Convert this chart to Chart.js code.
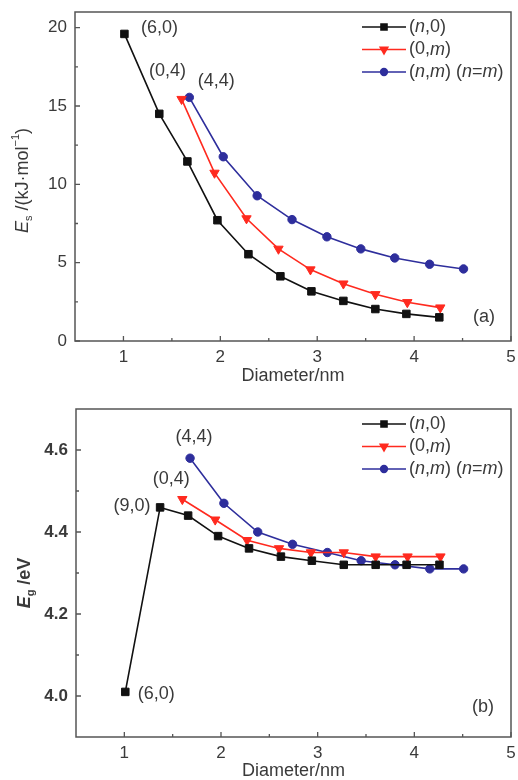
<!DOCTYPE html>
<html>
<head>
<meta charset="utf-8">
<script src="https://cdn.jsdelivr.net/npm/chart.js@4.4.1/dist/chart.umd.min.js"></script>
<style>
  body { margin: 0; background: #fff; }
  .painel { position: relative; width: 518px; height: 390px; }
</style>
</head>
<body>
<div class="painel"><canvas id="graficoA" width="518" height="390"></canvas></div>
<div class="painel"><canvas id="graficoB" width="518" height="390"></canvas></div>
<script>
// Dados
const DIAM_N0 = [1.01, 1.37, 1.66, 1.97, 2.29, 2.62, 2.94, 3.27, 3.60, 3.92, 4.26];
const DIAM_0M = [1.60, 1.94, 2.27, 2.60, 2.93, 3.27, 3.60, 3.93, 4.27];
const DIAM_NM = [1.68, 2.03, 2.38, 2.74, 3.10, 3.45, 3.80, 4.16, 4.51];

// (a) energia de deformação
const ES_N0 = [19.6, 14.5, 11.46, 7.71, 5.54, 4.13, 3.17, 2.56, 2.04, 1.73, 1.51];
const ES_0M = [15.44, 10.73, 7.82, 5.88, 4.56, 3.66, 2.98, 2.47, 2.13];
const ES_NM = [15.55, 11.76, 9.27, 7.75, 6.65, 5.88, 5.30, 4.90, 4.60];

// (b) gap de energia
const EG_N0 = [4.01, 4.46, 4.44, 4.39, 4.36, 4.34, 4.33, 4.32, 4.32, 4.32, 4.32];
const EG_0M = [4.48, 4.43, 4.38, 4.36, 4.35, 4.35, 4.34, 4.34, 4.34];
const EG_NM = [4.58, 4.47, 4.40, 4.37, 4.35, 4.33, 4.32, 4.31, 4.31];

// Ticks
const TICKS_X = [1, 1.5, 2, 2.5, 3, 3.5, 4, 4.5, 5];
const ROTULOS_X = [1, 2, 3, 4, 5];
const TICKS_Y_A = [0, 2.5, 5, 7.5, 10, 12.5, 15, 17.5, 20];
const ROTULOS_Y_A = [0, 5, 10, 15, 20];
const TICKS_Y_B = [4.0, 4.1, 4.2, 4.3, 4.4, 4.5, 4.6];
const ROTULOS_Y_B = [4.0, 4.2, 4.4, 4.6];

// Textos (partes com itálico / subscrito / sobrescrito)
const LEGENDA = [
  [{ t: '(' }, { t: 'n', i: true }, { t: ',0)' }],
  [{ t: '(0,' }, { t: 'm', i: true }, { t: ')' }],
  [{ t: '(' }, { t: 'n', i: true }, { t: ',' }, { t: 'm', i: true }, { t: ') (' }, { t: 'n', i: true }, { t: '=' }, { t: 'm', i: true }, { t: ')' }]
];
const TITULO_X = [{ t: 'Diameter/nm' }];
const TITULO_Y_A = [{ t: 'E', i: true }, { t: 's', sub: true }, { t: ' /(kJ·mol' }, { t: '−1', sup: true }, { t: ')' }];
const TITULO_Y_B = [{ t: 'E', i: true }, { t: 'g', sub: true }, { t: ' /eV' }];
const ROTULOS_A = ['(6,0)', '(0,4)', '(4,4)'];
const ROTULOS_B = ['(4,4)', '(0,4)', '(9,0)', '(6,0)'];

const CORES = ['#111111', '#ff2a1f', '#2e2e9c'];
const FONTE = '"Liberation Sans", Arial, sans-serif';
const COR_TEXTO = '#3a3a3a';
const COR_EIXO = '#555555';

function fontePara(p, tamanho, peso) {
  const s = (p.sub || p.sup) ? Math.round(tamanho * 0.62) : tamanho;
  return `${p.i ? 'italic ' : ''}${peso} ${s}px ${FONTE}`;
}

/**
 * Escreve um texto com partes em itálico, subscrito ou sobrescrito
 */
function desenharTexto(ctx, partes, x, y, tamanho, peso, alinhar) {
  let total = 0;
  partes.forEach(p => { ctx.font = fontePara(p, tamanho, peso); total += ctx.measureText(p.t).width; });
  let cx = alinhar === 'center' ? x - total / 2 : x;
  ctx.textAlign = 'left';
  ctx.textBaseline = 'middle';
  partes.forEach(p => {
    ctx.font = fontePara(p, tamanho, peso);
    const dy = p.sub ? tamanho * 0.32 : p.sup ? -tamanho * 0.38 : 0;
    ctx.fillText(p.t, cx, y + dy);
    cx += ctx.measureText(p.t).width;
  });
}

function serie(xs, ys, i, estilo, raio) {
  return {
    data: xs.map((x, k) => ({ x, y: ys[k] })),
    borderColor: CORES[i],
    backgroundColor: CORES[i],
    pointBackgroundColor: CORES[i],
    pointBorderColor: CORES[i],
    pointStyle: estilo,
    pointRadius: raio,
    pointRotation: estilo === 'triangle' ? 180 : 0,
    pointBorderWidth: 1,
    borderWidth: 1.6,
    showLine: true,
    fill: false,
    tension: 0
  };
}

/**
 * Cria um dos painéis (a) ou (b)
 */
function criarGrafico(id, cfg) {
  const ctx = document.getElementById(id).getContext('2d');
  const pesoY = cfg.negritoY ? 'bold' : 'normal';

  const moldura = {
    id: 'moldura',
    afterDraw(chart) {
      const c = chart.ctx;
      const a = chart.chartArea;
      const sx = chart.scales.x;
      const sy = chart.scales.y;
      c.save();
      c.strokeStyle = COR_EIXO;
      c.lineWidth = 1.5;
      c.strokeRect(a.left, a.top, a.right - a.left, a.bottom - a.top);

      // marcas dos eixos, viradas para dentro
      c.lineWidth = 1.3;
      c.beginPath();
      TICKS_X.forEach(v => {
        const px = sx.getPixelForValue(v);
        const len = ROTULOS_X.includes(v) ? 5 : 3;
        c.moveTo(px, a.bottom);
        c.lineTo(px, a.bottom - len);
      });
      cfg.ticksY.forEach(v => {
        const py = sy.getPixelForValue(v);
        const len = cfg.rotulosY.includes(v) ? 5 : 3;
        c.moveTo(a.left, py);
        c.lineTo(a.left + len, py);
      });
      c.stroke();

      c.fillStyle = COR_TEXTO;
      // títulos dos eixos
      desenharTexto(c, TITULO_X, (a.left + a.right) / 2, a.bottom + cfg.dyTituloX, 18, 'normal', 'center');
      c.save();
      c.translate(cfg.xTituloY, (a.top + a.bottom) / 2 + cfg.dyTituloY);
      c.rotate(-Math.PI / 2);
      desenharTexto(c, cfg.tituloY, 0, 0, 18, pesoY, 'center');
      c.restore();

      // rótulos junto aos pontos
      cfg.rotulos.forEach((r, k) => {
        const pos = cfg.posRotulos[k];
        const pt = chart.getDatasetMeta(pos.serie).data[pos.ponto];
        desenharTexto(c, [{ t: r }], pt.x + pos.dx, pt.y + pos.dy, 18, 'normal', 'center');
      });
      desenharTexto(c, [{ t: cfg.letra }], a.right - cfg.dxLetra, a.bottom - cfg.dyLetra, 18, 'normal', 'center');

      // legenda
      LEGENDA.forEach((partes, k) => {
        const ds = chart.data.datasets[k];
        const y = a.top + 15 + k * 22.5;
        const x0 = a.right - 149;
        c.strokeStyle = ds.borderColor;
        c.lineWidth = 1.6;
        c.beginPath();
        c.moveTo(x0, y);
        c.lineTo(x0 + 44, y);
        c.stroke();
        c.fillStyle = ds.backgroundColor;
        c.strokeStyle = ds.borderColor;
        Chart.helpers.drawPoint(c, {
          pointStyle: ds.pointStyle,
          radius: ds.pointRadius * 0.8,
          rotation: ds.pointRotation,
          borderWidth: 1
        }, x0 + 22, y);
        c.fillStyle = COR_TEXTO;
        desenharTexto(c, partes, x0 + 47, y, 18, 'normal', 'left');
      });
      c.restore();
    }
  };

  return new Chart(ctx, {
    type: 'scatter',
    data: {
      datasets: [
        serie(DIAM_N0, cfg.y[0], 0, 'rect', 5.3),
        serie(DIAM_0M, cfg.y[1], 1, 'triangle', 5.4),
        serie(DIAM_NM, cfg.y[2], 2, 'circle', 4.2)
      ]
    },
    options: {
      responsive: false,
      animation: false,
      layout: { padding: cfg.padding },
      plugins: { legend: { display: false }, tooltip: { enabled: false } },
      scales: {
        x: {
          type: 'linear',
          min: 0.5,
          max: 5,
          afterBuildTicks: s => { s.ticks = TICKS_X.map(v => ({ value: v })); },
          afterFit: s => {
            s.height = cfg.alturaX;
            s.paddingLeft = 0;
            s.paddingRight = 0;
          },
          grid: { drawOnChartArea: false, drawTicks: false },
          border: { display: false },
          ticks: {
            autoSkip: false,
            maxRotation: 0,
            padding: 6,
            color: COR_TEXTO,
            font: { size: 17, family: FONTE },
            callback: v => ROTULOS_X.includes(v) ? String(v) : ''
          }
        },
        y: {
          min: cfg.minY,
          max: cfg.maxY,
          afterBuildTicks: s => { s.ticks = cfg.ticksY.map(v => ({ value: v })); },
          afterFit: s => {
            s.width = cfg.larguraY;
            s.paddingTop = 0;
            s.paddingBottom = 0;
          },
          grid: { drawOnChartArea: false, drawTicks: false },
          border: { display: false },
          ticks: {
            autoSkip: false,
            padding: 8,
            color: COR_TEXTO,
            font: { size: 17, family: FONTE, weight: pesoY },
            callback: v => cfg.rotulosY.includes(v) ? cfg.formato(v) : ''
          }
        }
      }
    },
    plugins: [moldura]
  });
}

criarGrafico('graficoA', {
  y: [ES_N0, ES_0M, ES_NM],
  minY: 0, maxY: 21,
  ticksY: TICKS_Y_A, rotulosY: ROTULOS_Y_A, formato: v => String(v),
  padding: { top: 12, right: 7, left: 0, bottom: 0 },
  alturaX: 49, larguraY: 75,
  tituloY: TITULO_Y_A, xTituloY: 23, dyTituloY: 4, dyTituloX: 35,
  rotulos: ROTULOS_A,
  posRotulos: [
    { serie: 0, ponto: 0, dx: 35, dy: -6 },
    { serie: 1, ponto: 0, dx: -14, dy: -28 },
    { serie: 2, ponto: 0, dx: 27, dy: -16 }
  ],
  letra: '(a)', dxLetra: 27, dyLetra: 24,
  negritoY: false
});

criarGrafico('graficoB', {
  y: [EG_N0, EG_0M, EG_NM],
  minY: 3.9, maxY: 4.7,
  ticksY: TICKS_Y_B, rotulosY: ROTULOS_Y_B, formato: v => v.toFixed(1),
  padding: { top: 19, right: 7, left: 0, bottom: 0 },
  alturaX: 43, larguraY: 76,
  tituloY: TITULO_Y_B, xTituloY: 25, dyTituloY: 10, dyTituloX: 34,
  rotulos: ROTULOS_B,
  posRotulos: [
    { serie: 2, ponto: 0, dx: 4, dy: -21 },
    { serie: 1, ponto: 0, dx: -11, dy: -20 },
    { serie: 0, ponto: 1, dx: -28, dy: -1 },
    { serie: 0, ponto: 0, dx: 31, dy: 2 }
  ],
  letra: '(b)', dxLetra: 28, dyLetra: 30,
  negritoY: true
});
</script>
</body>
</html>
